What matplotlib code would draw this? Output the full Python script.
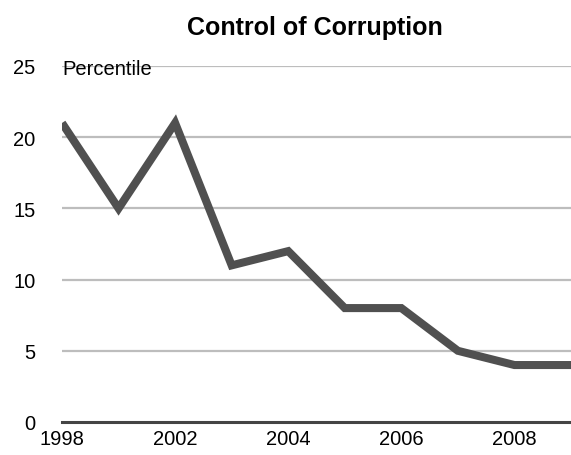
import matplotlib.pyplot as plt

plt.rcParams['font.family'] = ['Liberation Sans', 'DejaVu Sans']

# Categorical years (2001 missing in the source series)
anios = ['1998', '2000', '2002', '2003', '2004', '2005', '2006', '2007', '2008', '2009']
percentil = [21, 15, 21, 11, 12, 8, 8, 5, 4, 4]
etiquetas_x = ['1998', '2002', '2004', '2006', '2008']
marcas_y = [0, 5, 10, 15, 20, 25]

fig = plt.figure(figsize=(5.71, 4.56), dpi=100)
ax = fig.add_axes([62 / 571, 1 - 423 / 456, 1 - 62 / 571, (423 - 67) / 456])

posiciones = list(range(len(anios)))

# Gridlines
for v in marcas_y[1:]:
    ax.axhline(v, color='#bdbdbd', lw=1.6, zorder=1)
ax.axhline(0, color='#444444', lw=2.2, zorder=2, clip_on=False)

ax.plot(posiciones, percentil, color='#505050', lw=5.8,
        solid_joinstyle='miter', solid_capstyle='butt', zorder=3)

ax.set_xlim(0, len(anios) - 1)
ax.set_ylim(0, 25)

ax.set_xticks([posiciones[anios.index(a)] for a in etiquetas_x])
ax.set_xticklabels(etiquetas_x, fontsize=14.5)
ax.set_yticks(marcas_y)
ax.set_yticklabels([str(v) for v in marcas_y], fontsize=14.5)
ax.tick_params(axis='both', length=0)
ax.tick_params(axis='y', pad=19)
ax.tick_params(axis='x', pad=5)

for s in ax.spines.values():
    s.set_visible(False)

ax.text(0, 24.85, 'Percentile', fontsize=14.5, ha='left', va='center', zorder=4)
fig.text(0.552, 1 - 28 / 456, 'Control of Corruption', fontsize=18,
         fontweight='bold', ha='center', va='center')

fig.savefig('out.png', dpi=100)
